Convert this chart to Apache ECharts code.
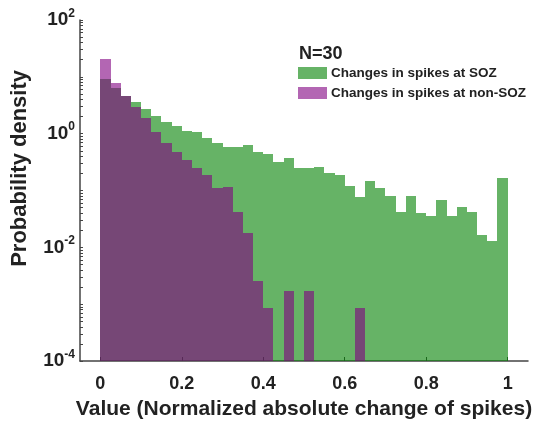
<!DOCTYPE html>
<html>
<head>
<meta charset="utf-8">
<script src="https://cdn.jsdelivr.net/npm/echarts@6/dist/echarts.min.js"></script>
<style>
  html, body { margin: 0; padding: 0; background: #fff; }
  #chart { width: 537px; height: 426px; }
</style>
</head>
<body>
<div id="chart"></div>
<script>
// histogram bins: 40 bins of width 0.025 from 0 to 1
const binWidth = 0.025;
const binCount = 40;

// probability density per bin, null = empty bin
const sozValues = [
    9.2, 6.3, 4.6, 3.57, 2.75, 2.02, 1.59, 1.37, 1.12, 1.06,
    0.85, 0.695, 0.59, 0.583, 0.625, 0.467, 0.44, 0.321, 0.369, 0.252,
    0.246, 0.259, 0.206, 0.188, 0.122, 0.078, 0.147, 0.112, 0.081, 0.0424,
    0.081, 0.0397, 0.036, 0.068, 0.036, 0.052, 0.0414, 0.0163, 0.0128, 0.164
];
const nonSozValues = [
    20.4, 7.9, 4.66, 2.92, 1.91, 1.07, 0.686, 0.471, 0.349, 0.252,
    0.19, 0.112, 0.117, 0.0424, 0.0177, 0.00254, 0.00085, null, 0.0017, null,
    0.0017, null, null, null, null, 0.00085, null, null, null, null,
    null, null, null, null, null, null, null, null, null, null
];

const xTicks = [0, 0.2, 0.4, 0.6, 0.8, 1];
const yMin = 1e-4;
const yMax = 1e2;
// decade ticks plus 2..9 minor ticks for the log axis
const yTicks = [];
for (let e = -4; e < 2; e++) {
    for (let m = 1; m < 10; m++) yTicks.push(m * Math.pow(10, e));
}
yTicks.push(yMax);

const seriesNames = ['Changes in spikes at SOZ', 'Changes in spikes at non-SOZ'];
const seriesColors = ['#008000', '#800080'];

function toBins(values) {
    let out = [];
    values.forEach((v, i) => {
        if (v !== null) out.push([i * binWidth, (i + 1) * binWidth, v]);
    });
    return out;
}

function histSeries(name, color, values) {
    return {
        name: name,
        type: 'custom',
        itemStyle: { color: color, opacity: 0.6 },
        encode: { x: [0, 1], y: 2 },
        renderItem: function (params, api) {
            let p0 = api.coord([api.value(0), api.value(2)]);
            let p1 = api.coord([api.value(1), yMin]);
            // snap to whole pixels so neighbouring bins meet without seams
            let x0 = Math.round(p0[0]), x1 = Math.round(p1[0]);
            let y0 = Math.round(p0[1]), y1 = Math.round(p1[1]);
            return {
                type: 'rect',
                shape: { x: x0, y: y0, width: x1 - x0, height: y1 - y0 },
                style: { fill: color, opacity: 0.6 }
            };
        },
        data: toBins(values)
    };
}

const font = '"Liberation Sans", Arial, sans-serif';
const textColor = '#222';
const axisColor = '#444';

let chart = echarts.init(document.getElementById('chart'));
chart.setOption({
    animation: false,
    title: {
        text: 'N=30',
        left: 294,
        top: 40,
        textStyle: { fontFamily: font, fontWeight: 'bold', fontSize: 18, color: textColor }
    },
    legend: {
        orient: 'vertical',
        left: 293,
        top: 61,
        itemWidth: 29,
        itemHeight: 12,
        itemGap: 6,
        icon: 'rect',
        data: seriesNames,
        textStyle: { fontFamily: font, fontWeight: 'bold', fontSize: 13.5, color: textColor, padding: [0, 0, 0, -1] }
    },
    grid: { left: 80, right: 9, top: 20, bottom: 65 },
    xAxis: {
        type: 'value',
        position: 'bottom',
        min: -0.05,
        max: 1.05,
        name: 'Value (Normalized absolute change of spikes)',
        nameLocation: 'middle',
        nameGap: 38,
        nameTextStyle: { fontFamily: font, fontWeight: 'bold', fontSize: 21, color: textColor },
        splitLine: { show: false },
        axisLine: { show: true, onZero: false, lineStyle: { color: axisColor, width: 1.5 } },
        axisTick: { show: true, inside: true, length: 4, customValues: xTicks, lineStyle: { color: axisColor } },
        axisLabel: {
            customValues: xTicks,
            margin: 14,
            fontFamily: font, fontWeight: 'bold', fontSize: 18, color: textColor,
            formatter: v => String(v)
        }
    },
    yAxis: {
        type: 'log',
        position: 'left',
        logBase: 10,
        min: yMin,
        max: yMax,
        interval: 2,
        splitLine: { show: false },
        axisLine: { show: true, onZero: false, lineStyle: { color: axisColor, width: 1.5 } },
        axisTick: { show: true, inside: true, length: 3, customValues: yTicks, lineStyle: { color: axisColor } },
        axisLabel: {
            margin: 5,
            formatter: function (v) {
                return '{b|10}{s|' + Math.round(Math.log10(v)) + '}';
            },
            rich: {
                b: { fontFamily: font, fontWeight: 'bold', fontSize: 19, color: textColor },
                s: { fontFamily: font, fontWeight: 'bold', fontSize: 12, color: textColor, padding: [0, 0, 13, 0] }
            }
        }
    },
    graphic: [{
        type: 'text',
        left: 9,
        top: 70,
        style: {
            text: 'Probability density',
            fontFamily: font, fontWeight: 'bold', fontSize: 22, fill: textColor
        },
        rotation: Math.PI / 2,
        originX: 0,
        originY: 0
    }],
    series: [
        histSeries(seriesNames[0], seriesColors[0], sozValues),
        histSeries(seriesNames[1], seriesColors[1], nonSozValues)
    ]
});
window.onresize = function () {
    chart.resize();
};
</script>
</body>
</html>
